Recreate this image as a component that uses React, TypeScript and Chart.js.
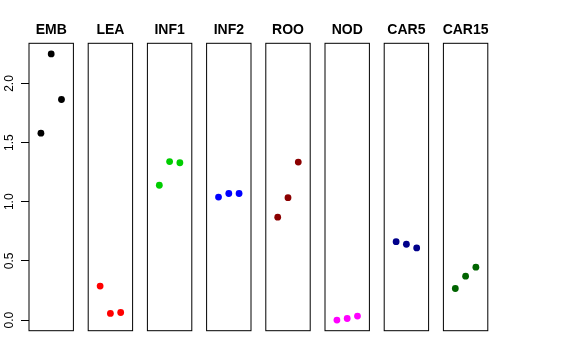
import React, { useEffect, useRef } from 'react';
import { Chart, registerables } from 'chart.js';
Chart.register(...registerables);

// ---- data ----
const categories = ['EMB', 'LEA', 'INF1', 'INF2', 'ROO', 'NOD', 'CAR5', 'CAR15'];
const replicates = [1, 2, 3];
const emb = [1.58, 2.25, 1.865];
const lea = [0.287, 0.056, 0.064];
const inf1 = [1.14, 1.34, 1.33];
const inf2 = [1.04, 1.07, 1.07];
const roo = [0.87, 1.035, 1.336];
const nod = [0.0, 0.013, 0.034];
const car5 = [0.663, 0.641, 0.61];
const car15 = [0.267, 0.371, 0.447];
const yTicks = [0, 0.5, 1.0, 1.5, 2.0];
const xRange = [0, 4];

const seriesValues = [emb, lea, inf1, inf2, roo, nod, car5, car15];

// ---- style / layout ----
const colors = ['#000000', '#FF0000', '#00CD00', '#0000FF', '#8B0000', '#FF00FF', '#00008B', '#006400'];
const W = 576;
const H = 360;
const PANEL_LEFT = 29;
const PANEL_PITCH = 59.2;
const PANEL_WIDTH = 44.4;
const PANEL_TOP = 43.3;
const PANEL_BOTTOM = 330.7;
const FONT = '"Liberation Sans", Arial, Helvetica, sans-serif';

Chart.defaults.font.family = FONT;

function panelPlugin(name: string) {
  return {
    id: 'panel_' + name,
    afterDraw(chart: any) {
      const { ctx, chartArea } = chart;
      ctx.save();
      ctx.strokeStyle = '#000';
      ctx.lineWidth = 1;
      ctx.strokeRect(chartArea.left, chartArea.top, chartArea.right - chartArea.left, chartArea.bottom - chartArea.top);
      ctx.fillStyle = '#000';
      ctx.font = 'bold 14px ' + FONT;
      ctx.textAlign = 'center';
      ctx.textBaseline = 'alphabetic';
      ctx.fillText(name, (chartArea.left + chartArea.right) / 2, 34);
      ctx.restore();
    },
  };
}

export default function App() {
  const refs = useRef<(HTMLCanvasElement | null)[]>([]);

  useEffect(() => {
    const flat = seriesValues.flat();
    const lo = Math.min(...flat);
    const hi = Math.max(...flat);
    const ext = (hi - lo) * 0.04;
    const xExt = (xRange[1] - xRange[0]) * 0.04;

    const charts = categories.map((name, i) => {
      const canvas = refs.current[i] as HTMLCanvasElement;
      const left = PANEL_LEFT + i * PANEL_PITCH;
      const right = left + PANEL_WIDTH;
      const showY = i === 0;
      return new Chart(canvas, {
        type: 'scatter',
        data: {
          datasets: [
            {
              label: name,
              data: replicates.map((r, j) => ({ x: r, y: seriesValues[i][j] })),
              pointBackgroundColor: colors[i],
              pointBorderColor: colors[i],
              backgroundColor: colors[i],
              borderColor: colors[i],
              pointBorderWidth: 0,
              pointRadius: 3.4,
              pointHoverRadius: 3.4,
            },
          ],
        },
        options: {
          responsive: false,
          animation: false,
          events: [],
          layout: {
            padding: {
              left: showY ? 0 : left,
              right: W - right,
              top: PANEL_TOP,
              bottom: H - PANEL_BOTTOM,
            },
          },
          plugins: {
            legend: { display: false },
            tooltip: { enabled: false },
            title: { display: false },
          },
          scales: {
            x: {
              type: 'linear',
              display: false,
              min: xRange[0] - xExt,
              max: xRange[1] + xExt,
            },
            y: {
              type: 'linear',
              display: showY,
              min: lo - ext,
              max: hi + ext,
              afterFit: (s: any) => {
                s.width = showY ? left : 0;
              },
              afterBuildTicks: (s: any) => {
                s.ticks = yTicks.map((v) => ({ value: v }));
              },
              ticks: {
                callback: (v: any) => Number(v).toFixed(1),
                minRotation: 90,
                maxRotation: 90,
                crossAlign: 'center',
                padding: 2.5,
                color: '#000',
                font: { size: 12, family: FONT },
              },
              grid: {
                drawOnChartArea: false,
                drawTicks: true,
                tickLength: 8,
                color: '#000',
              },
              border: { display: false },
            },
          },
        } as any,
        plugins: [panelPlugin(name)],
      });
    });
    return () => charts.forEach((c) => c.destroy());
  }, []);

  return (
    <div style={{ position: 'fixed', left: 0, top: 0, width: W, height: H, background: '#fff' }}>
      {categories.map((name, i) => (
        <canvas
          key={name}
          ref={(el) => {
            refs.current[i] = el;
          }}
          width={W}
          height={H}
          style={{ position: 'absolute', left: 0, top: 0, width: W, height: H }}
        />
      ))}
    </div>
  );
}
